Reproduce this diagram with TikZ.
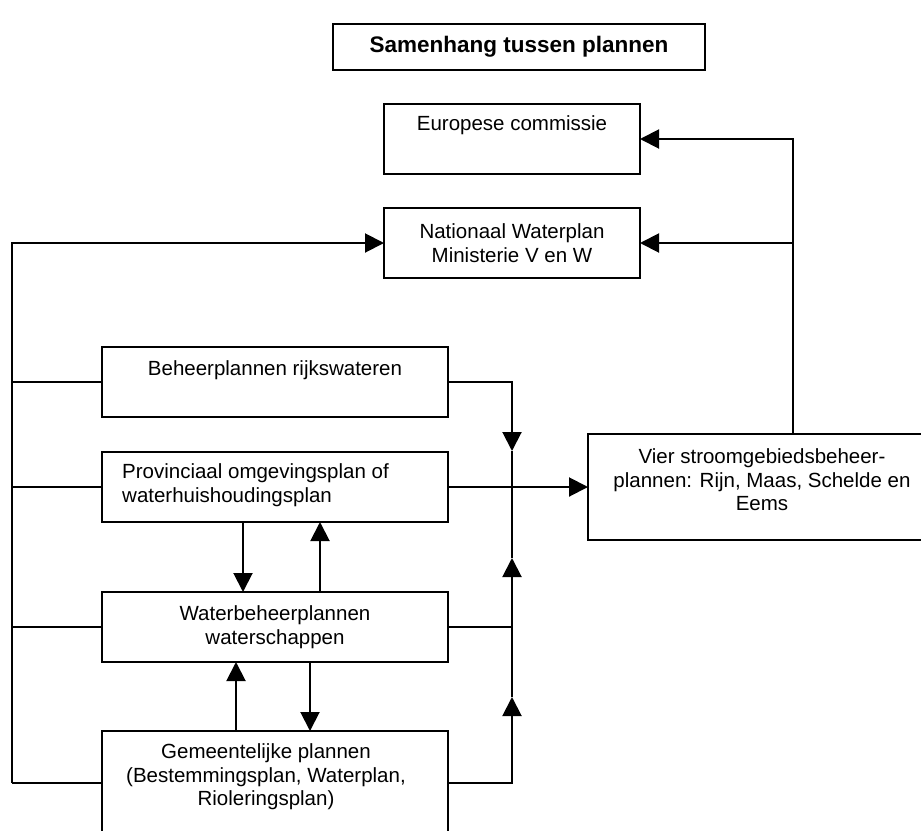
\documentclass[tikz,border=0pt]{standalone}
\usepackage{fontspec}
\setmainfont{Liberation Sans}
\usetikzlibrary{arrows.meta}
\tikzset{
  box/.style={draw=black, line width=2pt, inner sep=0pt, outer sep=0pt, fill=none},
  txt/.style={inner sep=0pt, align=center, font=\fontsize{20.5}{23.5}\selectfont},
  conn/.style={line width=2pt},
  arr/.style={line width=2pt, -{Triangle[length=19pt,width=19pt]}}
}
\begin{document}
\begin{tikzpicture}[x=1pt,y=-1pt]
\useasboundingbox (0,0) rectangle (921,830);
\clip (0,0) rectangle (921,830);
\fill[white] (0,0) rectangle (921,830);
% boxes
\node[box, minimum width=372pt, minimum height=46pt] (title) at (519,47) {};
\node[txt, font=\bfseries\fontsize{22.5}{26}\selectfont] (titlet) at (519,47) {Samenhang tussen plannen};
\node[box, minimum width=256pt, minimum height=70pt] (eur) at (512,139) {};
\node[txt] (eurt) at (512,125) {Europese commissie};
\node[box, minimum width=256pt, minimum height=70pt] (nat) at (512,243) {};
\node[txt] (natt) at (512,243) {Nationaal Waterplan\\Ministerie V en W};
\node[box, minimum width=346pt, minimum height=70pt] (beh) at (275,382) {};
\node[txt] (beht) at (275,370) {Beheerplannen rijkswateren};
\node[box, minimum width=346pt, minimum height=70pt] (prov) at (275,487) {};
\node[txt, anchor=west, align=left] (provt) at (122,485) {Provinciaal omgevingsplan of\\waterhuishoudingsplan};
\node[box, minimum width=346pt, minimum height=70pt] (wat) at (275,627) {};
\node[txt] (watt) at (275,627) {Waterbeheerplannen\\waterschappen};
\node[box, minimum width=346pt, minimum height=104pt] (gem) at (275,783) {};
\node[txt] (gemt) at (266,777) {Gemeentelijke plannen\\(Bestemmingsplan, Waterplan,\\Rioleringsplan)};
\node[box, minimum width=348pt, minimum height=106pt] (vier) at (762,487) {};
\node[txt] (viert) at (762,480) {Vier stroomgebiedsbeheer-\\plannen: Rijn, Maas, Schelde en\\Eems};
% helper coordinates
\coordinate (lt) at (12,243);
\coordinate (lb) at (12,783);
\coordinate (rt) at (793,139);
\coordinate (rn) at (793,243);
\coordinate (b1) at (512,382);
\coordinate (a1) at (512,451);
\coordinate (a2) at (512,558);
\coordinate (b2) at (512,627);
\coordinate (a3) at (512,697);
\coordinate (b3) at (512,783);
% left bus
\draw[arr] (lb) -- (lt) -- (nat.west);
\draw[conn] (beh.west) -- (beh.west -| lt);
\draw[conn] (prov.west) -- (prov.west -| lt);
\draw[conn] (wat.west) -- (wat.west -| lt);
\draw[conn] (gem.west) -- (lb);
% right to European
\draw[arr] (vier.north -| rt) -- (rt) -- (eur.east |- rt);
\draw[arr] (rn) -- (nat.east);
% provincial to stroomgebied
\draw[arr] (prov.east) -- (prov.east -| vier.west);
% right bus
\draw[arr] (beh.east) -- (b1) -- (a1);
\draw[conn] (a1) -- (a2);
\draw[arr] (wat.east) -- (b2) -- (a2);
\draw[arr] (gem.east) -- (b3) -- (a3);
\draw[conn] (a3) -- (b2);
% vertical between boxes
\draw[arr] (prov.south -| 243,0) -- (wat.north -| 243,0);
\draw[arr] (wat.north -| 320,0) -- (prov.south -| 320,0);
\draw[arr] (wat.south -| 310,0) -- (gem.north -| 310,0);
\draw[arr] (gem.north -| 236,0) -- (wat.south -| 236,0);
\end{tikzpicture}
\end{document}
